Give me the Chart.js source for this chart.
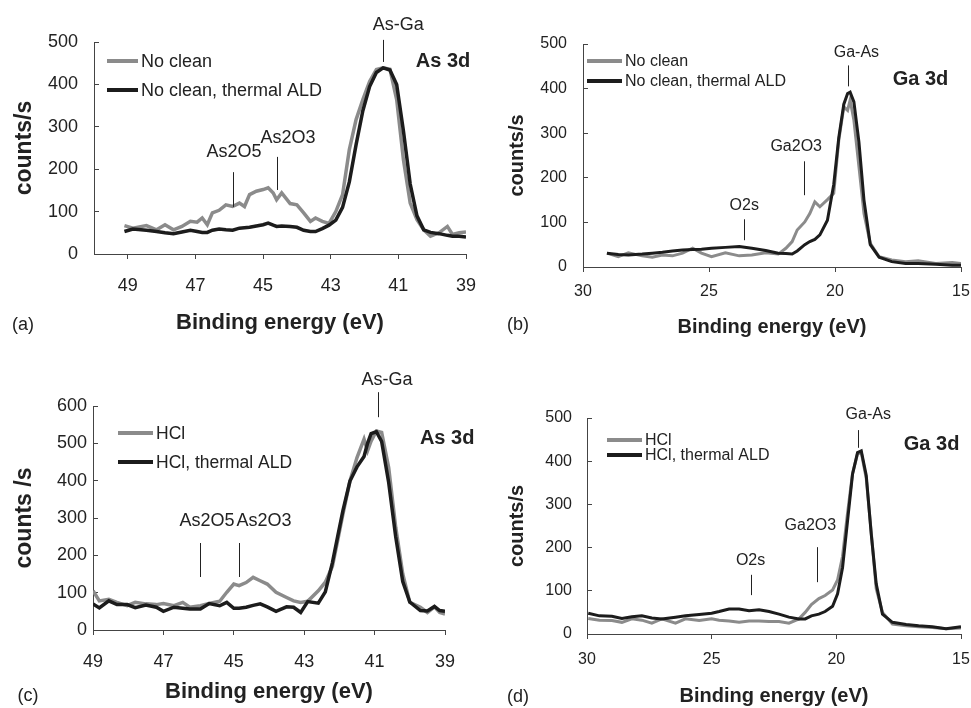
<!DOCTYPE html>
<html>
<head>
<meta charset="utf-8">
<script src="https://cdn.jsdelivr.net/npm/chart.js@4"></script>
<style>
  body { margin: 0; background: #fff; }
  #wrap { position: relative; width: 971px; height: 708px; }
  canvas { position: absolute; }
</style>
</head>
<body>
<div id="wrap">
  <canvas id="chartA" width="485" height="354" style="left:0;top:0"></canvas>
  <canvas id="chartB" width="486" height="354" style="left:485px;top:0"></canvas>
  <canvas id="chartC" width="485" height="354" style="left:0;top:354px"></canvas>
  <canvas id="chartD" width="486" height="354" style="left:485px;top:354px"></canvas>
</div>
<script>
// (a) As 3d, no clean
const aEnergy = [49.1, 48.85, 48.45, 48.15, 47.9, 47.65, 47.4, 47.15, 46.95, 46.8, 46.65, 46.5, 46.3, 46.1, 45.9, 45.7, 45.55, 45.4, 45.2, 45.0, 44.85, 44.7, 44.6, 44.45, 44.2, 44.0, 43.8, 43.6, 43.45, 43.25, 43.05, 42.85, 42.65, 42.45, 42.25, 42.05, 41.85, 41.65, 41.45, 41.25, 41.05, 40.85, 40.65, 40.45, 40.25, 40.05, 39.8, 39.55, 39.4, 39.2, 39.0];
const aNoClean = [67, 61, 67, 57, 69, 57, 65, 77, 75, 85, 69, 97, 103, 116, 112, 120, 112, 140, 148, 152, 156, 144, 128, 144, 119, 116, 97, 77, 85, 77, 72, 100, 140, 246, 317, 364, 407, 435, 439, 436, 364, 222, 120, 81, 57, 42, 50, 65, 46, 50, 52];
const aNoCleanAld = [53, 59, 56, 53, 50, 48, 52, 56, 53, 51, 51, 56, 59, 57, 56, 61, 62, 63, 66, 69, 73, 68, 65, 66, 65, 63, 56, 53, 53, 60, 68, 80, 110, 170, 258, 338, 395, 428, 439, 434, 400, 290, 165, 90, 57, 51, 48, 44, 42, 42, 40];

// (b) Ga 3d, no clean
const bEnergy = [29.05, 28.6, 28.2, 27.65, 27.25, 26.85, 26.45, 26.05, 25.65, 25.3, 24.9, 24.35, 23.8, 23.3, 22.75, 22.25, 21.95, 21.7, 21.5, 21.2, 21.0, 20.8, 20.6, 20.3, 20.05, 19.85, 19.65, 19.5, 19.4, 19.25, 19.05, 18.85, 18.6, 18.25, 17.75, 17.2, 16.7, 16.0, 15.35, 15.0];
const bNoClean = [31, 23, 32, 25, 22, 27, 25, 31, 42, 31, 23, 32, 25, 27, 32, 29, 42, 57, 83, 101, 120, 146, 135, 151, 165, 284, 359, 351, 374, 329, 225, 120, 53, 23, 16, 12, 14, 8, 10, 8];
const bNoCleanAld = [31, 28, 27, 29, 31, 33, 36, 38, 39, 40, 42, 44, 46, 42, 37, 31, 30, 29, 36, 50, 57, 62, 72, 105, 185, 290, 365, 389, 392, 370, 280, 150, 50, 22, 12, 8, 8, 6, 4, 4];

// (c) As 3d, HCl
const cEnergy = [49.0, 48.82, 48.55, 48.32, 48.03, 47.8, 47.5, 47.2, 47.0, 46.7, 46.45, 46.25, 45.95, 45.7, 45.4, 45.2, 45.0, 44.85, 44.65, 44.45, 44.25, 44.05, 43.8, 43.5, 43.3, 43.1, 42.9, 42.6, 42.4, 42.2, 42.05, 41.9, 41.7, 41.5, 41.3, 41.2, 41.1, 40.95, 40.8, 40.6, 40.4, 40.2, 40.0, 39.7, 39.5, 39.3, 39.15, 39.0];
const cHcl = [105, 78, 82, 74, 65, 74, 70, 68, 71, 65, 74, 61, 65, 71, 77, 101, 123, 119, 127, 141, 132, 123, 101, 87, 78, 74, 77, 105, 128, 170, 239, 310, 399, 462, 511, 480, 506, 533, 529, 435, 275, 150, 74, 61, 47, 62, 47, 43];
const cHclAld = [70, 59, 78, 68, 68, 60, 67, 61, 50, 61, 58, 56, 56, 71, 65, 74, 58, 58, 61, 66, 70, 62, 50, 62, 61, 47, 76, 72, 102, 180, 250, 320, 399, 437, 465, 500, 526, 531, 505, 395, 250, 130, 75, 52, 51, 63, 52, 50];

// (d) Ga 3d, HCl
const dEnergy = [29.95, 29.5, 29.0, 28.6, 28.2, 27.8, 27.4, 27.0, 26.45, 26.05, 25.5, 25.0, 24.7, 24.3, 23.9, 23.5, 23.1, 22.7, 22.3, 21.9, 21.5, 21.25, 21.0, 20.7, 20.45, 20.15, 19.95, 19.75, 19.55, 19.35, 19.15, 19.0, 18.8, 18.6, 18.4, 18.15, 17.75, 17.2, 16.7, 16.15, 15.6, 15.0];
const dHcl = [36, 32, 31, 27, 35, 32, 25, 35, 25, 35, 31, 35, 32, 30, 27, 30, 30, 29, 29, 25, 35, 50, 68, 82, 89, 102, 125, 180, 280, 372, 417, 420, 360, 235, 105, 50, 23, 19, 17, 15, 12, 14];
const dHclAld = [48, 42, 41, 36, 40, 42, 37, 35, 39, 42, 45, 48, 52, 58, 58, 54, 56, 52, 46, 39, 35, 35, 42, 46, 52, 64, 93, 154, 262, 370, 420, 424, 367, 231, 116, 46, 27, 22, 19, 17, 12, 17];

const asTicks = [49, 47, 45, 43, 41, 39];
const gaTicks = [30, 25, 20, 15];

const FONT = "'Liberation Sans', Arial, sans-serif";
const GREY = "#8b8b8b";
const BLACK = "#1c1c1c";
const TEXT = "#222";
const AXIS = "#444";

function pairs(xs, ys) {
  return xs.map((x, i) => ({ x: x, y: ys[i] }));
}

// peak markers, core-level label, legend and panel letter
function annotations(p) {
  return {
    id: "annotations",
    afterDraw(chart) {
      const ctx = chart.ctx;
      const xs = chart.scales.x;
      const ys = chart.scales.y;
      ctx.save();
      ctx.fillStyle = TEXT;
      ctx.strokeStyle = TEXT;
      ctx.lineWidth = 1;
      ctx.textAlign = "center";
      ctx.textBaseline = "middle";
      ctx.font = p.size + "px " + FONT;
      p.peaks.forEach((pk) => {
        const px = Math.round(xs.getPixelForValue(pk.at)) + 0.5;
        ctx.beginPath();
        ctx.moveTo(px, ys.getPixelForValue(pk.from));
        ctx.lineTo(px, ys.getPixelForValue(pk.to));
        ctx.stroke();
        ctx.fillText(pk.text, xs.getPixelForValue(pk.tx), ys.getPixelForValue(pk.ty));
      });

      ctx.font = "bold 20px " + FONT;
      ctx.fillText(p.core.text, xs.getPixelForValue(p.core.x), ys.getPixelForValue(p.core.y));

      ctx.font = "18px " + FONT;
      ctx.fillText(p.letter.text, p.letter.x, p.letter.y);

      const lg = p.legend;
      ctx.textAlign = "left";
      ctx.font = lg.size + "px " + FONT;
      chart.data.datasets.forEach((ds, i) => {
        const y = lg.y + i * lg.gap;
        ctx.strokeStyle = ds.borderColor;
        ctx.lineWidth = 4;
        ctx.beginPath();
        ctx.moveTo(lg.x, y);
        ctx.lineTo(lg.x + lg.len, y);
        ctx.stroke();
        ctx.fillText(ds.label, lg.x + lg.len + 3, y + 1);
      });
      ctx.restore();
    },
  };
}

function makePanel(id, p) {
  const H = 354;
  const area = p.area;
  return new Chart(document.getElementById(id), {
    type: "scatter",
    data: {
      datasets: [
        {
          label: p.labels[0],
          data: pairs(p.energy, p.first),
          borderColor: GREY,
          borderWidth: p.lineWidth,
          showLine: true,
          pointRadius: 0,
          order: 1,
        },
        {
          label: p.labels[1],
          data: pairs(p.energy, p.second),
          borderColor: BLACK,
          borderWidth: p.lineWidth,
          showLine: true,
          pointRadius: 0,
          order: 0,
        },
      ],
    },
    options: {
      responsive: false,
      animation: false,
      devicePixelRatio: 1,
      layout: { padding: { left: 0, top: area.top, right: p.width - area.right, bottom: 0 } },
      plugins: { legend: { display: false }, tooltip: { enabled: false } },
      scales: {
        x: {
          type: "linear",
          reverse: true,
          min: p.xMin,
          max: p.xMax,
          afterBuildTicks: (s) => {
            s.ticks = p.xTicks.map((v) => ({ value: v }));
          },
          afterFit: (s) => {
            s.height = H - area.bottom;
            s.paddingLeft = 0;
            s.paddingRight = 0;
          },
          grid: { drawOnChartArea: false, tickLength: 5, color: AXIS },
          border: { color: AXIS, width: 1 },
          ticks: { padding: p.xPad, color: TEXT, maxRotation: 0, font: { family: FONT, size: p.tick } },
          title: {
            display: true,
            text: "Binding energy (eV)",
            color: TEXT,
            font: { family: FONT, size: p.xTitle.size, weight: "bold" },
            padding: { top: 0, bottom: p.xTitle.pad },
          },
        },
        y: {
          min: 0,
          max: p.yMax,
          afterFit: (s) => {
            s.width = area.left;
            s.paddingTop = 0;
            s.paddingBottom = 0;
          },
          grid: { drawOnChartArea: false, tickLength: -5, color: AXIS },
          border: { color: AXIS, width: 1 },
          ticks: { stepSize: 100, padding: p.yPad, color: TEXT, font: { family: FONT, size: p.tick } },
          title: {
            display: true,
            text: p.yTitle.text,
            color: TEXT,
            font: { family: FONT, size: p.yTitle.size, weight: "bold" },
            padding: { top: p.yTitle.pad, bottom: 0 },
          },
        },
      },
    },
    plugins: [annotations(p)],
  });
}

makePanel("chartA", {
  width: 485,
  area: { left: 94, right: 466, top: 42, bottom: 254 },
  energy: aEnergy, first: aNoClean, second: aNoCleanAld,
  labels: ["No clean", "No clean, thermal ALD"],
  xMin: 39, xMax: 50, xTicks: asTicks, yMax: 500,
  tick: 18, xPad: 16, yPad: 21, lineWidth: 3.5,
  xTitle: { size: 22, pad: 18 },
  yTitle: { text: "counts/s", size: 23, pad: 11 },
  size: 18,
  peaks: [
    { text: "As-Ga", at: 41.45, from: 453, to: 505, tx: 41.0, ty: 540 },
    { text: "As2O5", at: 45.89, from: 111, to: 193, tx: 45.86, ty: 240 },
    { text: "As2O3", at: 44.59, from: 151, to: 229, tx: 44.26, ty: 274 },
  ],
  core: { text: "As 3d", x: 39.68, y: 455 },
  letter: { text: "(a)", x: 23, y: 325 },
  legend: { x: 107, y: 61, gap: 29, len: 31, size: 18 },
});

makePanel("chartB", {
  width: 486,
  area: { left: 98, right: 476, top: 44, bottom: 267 },
  energy: bEnergy, first: bNoClean, second: bNoCleanAld,
  labels: ["No clean", "No clean, thermal ALD"],
  xMin: 15, xMax: 30, xTicks: gaTicks, yMax: 500,
  tick: 16, xPad: 10, yPad: 21, lineWidth: 3,
  xTitle: { size: 20, pad: 15 },
  yTitle: { text: "counts/s", size: 20, pad: 20 },
  size: 16,
  peaks: [
    { text: "Ga-As", at: 19.5, from: 405, to: 452, tx: 19.15, ty: 481 },
    { text: "Ga2O3", at: 21.22, from: 161, to: 237, tx: 21.54, ty: 269 },
    { text: "O2s", at: 23.6, from: 60, to: 107, tx: 23.6, ty: 137 },
  ],
  core: { text: "Ga 3d", x: 16.61, y: 421 },
  letter: { text: "(b)", x: 33, y: 325 },
  legend: { x: 102, y: 61, gap: 20, len: 35, size: 16 },
});

makePanel("chartC", {
  width: 485,
  area: { left: 93, right: 445, top: 52, bottom: 276 },
  energy: cEnergy, first: cHcl, second: cHclAld,
  labels: ["HCl", "HCl, thermal ALD"],
  xMin: 39, xMax: 49, xTicks: asTicks, yMax: 600,
  tick: 18, xPad: 16, yPad: 11, lineWidth: 3.5,
  xTitle: { size: 22, pad: 3 },
  yTitle: { text: "counts /s", size: 23, pad: 11 },
  size: 18,
  peaks: [
    { text: "As-Ga", at: 40.91, from: 570, to: 637, tx: 40.65, ty: 669 },
    { text: "As2O5", at: 45.95, from: 142, to: 233, tx: 45.76, ty: 292 },
    { text: "As2O3", at: 44.84, from: 142, to: 233, tx: 44.14, ty: 292 },
  ],
  core: { text: "As 3d", x: 38.94, y: 514 },
  letter: { text: "(c)", x: 28, y: 342 },
  legend: { x: 118, y: 79, gap: 29, len: 35, size: 17.5 },
});

makePanel("chartD", {
  width: 486,
  area: { left: 102, right: 476, top: 64, bottom: 280 },
  energy: dEnergy, first: dHcl, second: dHclAld,
  labels: ["HCl", "HCl, thermal ALD"],
  xMin: 15, xMax: 30, xTicks: gaTicks, yMax: 500,
  tick: 16, xPad: 11, yPad: 20, lineWidth: 3,
  xTitle: { size: 20, pad: 0 },
  yTitle: { text: "counts/s", size: 20, pad: 20 },
  size: 16,
  peaks: [
    { text: "Ga-As", at: 19.14, from: 431, to: 472, tx: 18.72, ty: 509 },
    { text: "Ga2O3", at: 20.78, from: 120, to: 201, tx: 21.04, ty: 250 },
    { text: "O2s", at: 23.41, from: 90, to: 137, tx: 23.44, ty: 171 },
  ],
  core: { text: "Ga 3d", x: 16.18, y: 438 },
  letter: { text: "(d)", x: 33, y: 343 },
  legend: { x: 122, y: 86, gap: 15, len: 35, size: 16 },
});
</script>
</body>
</html>
